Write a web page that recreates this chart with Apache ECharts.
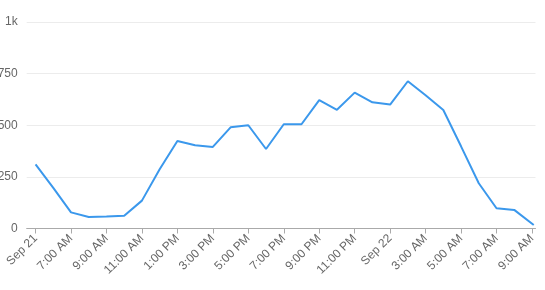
<!DOCTYPE html>
<html>
<head>
<meta charset="utf-8">
<script src="https://cdn.jsdelivr.net/npm/echarts@6/dist/echarts.min.js"></script>
<style>
html,body{margin:0;padding:0;background:#fff;}
#chart{width:545px;height:290px;}
</style>
</head>
<body>
<div id="chart"></div>
<script>
// hours since Sep 21 5:00 AM
const hours = [0,1,2,3,4,5,6,7,8,9,10,11,12,13,14,15,16,17,18,19,20,21,22,23,24,25,26,27,28.1];
const values = [311,197,78,56,58,62,135,287,424,403,395,490,500,385,505,505,622,575,658,611,600,713,645,574,398,219,98,90,17];
const tickHours = [0,2,4,6,8,10,12,14,16,18,20,22,24,26,28];
const tickLabels = ['Sep 21','7:00 AM','9:00 AM','11:00 AM','1:00 PM','3:00 PM','5:00 PM','7:00 PM','9:00 PM','11:00 PM','Sep 22','3:00 AM','5:00 AM','7:00 AM','9:00 AM'];
const yTicks = [0,250,500,750,1000];
const yLabels = ['0','250','500','750','1k'];

const chart = echarts.init(document.getElementById('chart'));
chart.setOption({
  animation:false,
  textStyle:{fontFamily:'Liberation Sans, Arial, sans-serif'},
  grid:{left:26.7,right:9.5,top:22,bottom:61.5,containLabel:false,outerBoundsMode:'none'},
  xAxis:{
    type:'value', min:-0.5, max:28.2,
    axisLine:{show:true,lineStyle:{color:'#aaaaaa',width:1}},
    axisTick:{show:true,length:5,lineStyle:{color:'#aaaaaa'},customValues:tickHours},
    axisLabel:{rotate:45,margin:8,fontSize:12,color:'#666666',customValues:tickHours,
      formatter:function(v){const i=tickHours.indexOf(v);return i>=0?tickLabels[i]:'';}},
    splitLine:{show:false}
  },
  yAxis:{
    type:'value', min:0, max:1000, interval:250,
    axisLine:{show:false}, axisTick:{show:false},
    axisLabel:{margin:9,fontSize:12,color:'#666666',
      formatter:function(v){const i=yTicks.indexOf(v);return i>=0?yLabels[i]:'';}},
    splitLine:{lineStyle:{color:'#ececec',width:1}}
  },
  series:[{
    type:'line', showSymbol:false, symbol:'none',
    data:hours.map((h,i)=>[h,values[i]]),
    lineStyle:{color:'#3b98ec',width:2},
    itemStyle:{color:'#3b98ec'}
  }]
});
</script>
</body>
</html>
